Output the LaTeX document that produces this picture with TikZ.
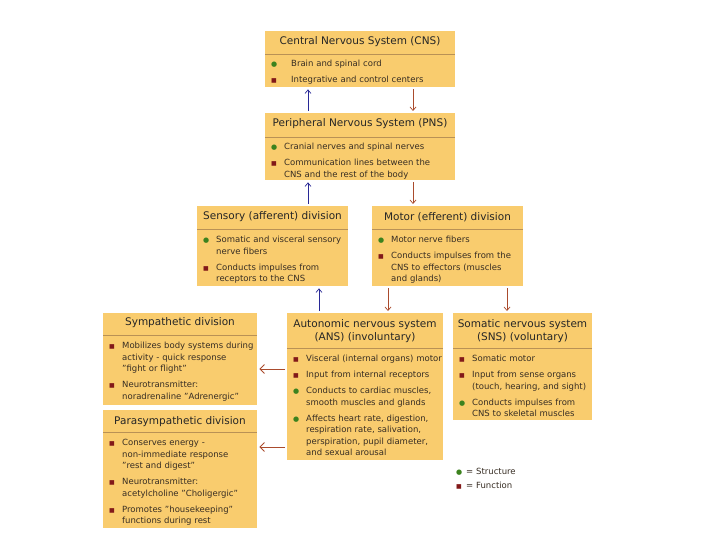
\documentclass[tikz,border=0pt]{standalone}
\usepackage{fontspec}
\setmainfont{DejaVu Sans}
\usetikzlibrary{arrows.meta}
\definecolor{boxfill}{RGB}{249,204,110}
\definecolor{sepline}{RGB}{185,145,85}
\definecolor{bgreen}{RGB}{60,130,30}
\definecolor{bred}{RGB}{130,25,25}
\definecolor{arblue}{RGB}{40,40,150}
\definecolor{arbrown}{RGB}{170,75,45}
\definecolor{txt}{RGB}{55,45,35}
\newlength\bind
\setlength\bind{13pt}
\newcommand\gbul{\textcolor{bgreen}{\fontsize{7}{7}\selectfont ●}}
\newcommand\rbul{\textcolor{bred}{\fontsize{6}{6}\selectfont ■}}
\newcommand\bitem[2]{\par\hangindent=\bind\hangafter=1\noindent\makebox[\bind][l]{#1}#2\par}
\newcommand\igap{\vspace{4.5pt}}
\tikzset{
  box/.style={fill=boxfill, draw=none, rectangle, inner sep=0pt, anchor=north west},
  ttl/.style={font=\fontsize{10.5}{13}\selectfont, text=black!85, align=center, inner sep=0pt},
  bdy/.style={font=\fontsize{8.5}{11.5}\selectfont, text=txt, inner sep=0pt, anchor=north west},
  sepl/.style={draw=sepline, line width=0.6pt},
  upar/.style={draw=arblue, line width=0.7pt, -{Straight Barb[length=3.5pt,width=6pt]}, shorten <=2pt, shorten >=2pt},
  dnar/.style={draw=arbrown, line width=0.7pt, -{Straight Barb[length=3.5pt,width=6pt]}, shorten <=2pt, shorten >=2pt},
  lfar/.style={draw=arbrown, line width=0.8pt, -{Straight Barb[length=4.5pt,width=9pt]}, shorten <=2pt, shorten >=2pt},
}
\begin{document}
\begin{tikzpicture}[x=1pt, y=-1pt]
\fill[white] (0,0) rectangle (720,540);
\useasboundingbox (0,0) rectangle (720,540);

% ---- boxes ----
\node[box, minimum width=190pt, minimum height=56pt] (cns) at (265,31) {};
\node[box, minimum width=190pt, minimum height=67pt] (pns) at (265,113) {};
\node[box, minimum width=151pt, minimum height=80pt] (sen) at (197,206) {};
\node[box, minimum width=151pt, minimum height=80pt] (mot) at (372,206) {};
\node[box, minimum width=154pt, minimum height=92pt] (sym) at (103,313) {};
\node[box, minimum width=156pt, minimum height=147pt] (ans) at (287,313) {};
\node[box, minimum width=139pt, minimum height=107pt] (sns) at (453,313) {};
\node[box, minimum width=154pt, minimum height=118pt] (par) at (103,410) {};

% ---- separators ----
\draw[sepl] ([yshift=-23pt]cns.north west) -- ([yshift=-23pt]cns.north east);
\draw[sepl] ([yshift=-24pt]pns.north west) -- ([yshift=-24pt]pns.north east);
\draw[sepl] ([yshift=-23pt]sen.north west) -- ([yshift=-23pt]sen.north east);
\draw[sepl] ([yshift=-23pt]mot.north west) -- ([yshift=-23pt]mot.north east);
\draw[sepl] ([yshift=-22pt]sym.north west) -- ([yshift=-22pt]sym.north east);
\draw[sepl] ([yshift=-35pt]ans.north west) -- ([yshift=-35pt]ans.north east);
\draw[sepl] ([yshift=-35pt]sns.north west) -- ([yshift=-35pt]sns.north east);
\draw[sepl] ([yshift=-22pt]par.north west) -- ([yshift=-22pt]par.north east);

% ---- titles ----
\node[ttl] (cnsT) at (360,42) {Central Nervous System (CNS)};
\node[ttl] (pnsT) at (360,124) {Peripheral Nervous System (PNS)};
\node[ttl] (senT) at (272.5,217) {Sensory (afferent) division};
\node[ttl] (motT) at (447.5,217) {Motor (efferent) division};
\node[ttl] (symT) at (180,323) {Sympathetic division};
\node[ttl] (ansT) at (365,331.5) {Autonomic nervous system\\(ANS) (involuntary)};
\node[ttl] (snsT) at (522.5,331.5) {Somatic nervous system\\(SNS) (voluntary)};
\node[ttl] (parT) at (180,422) {Parasympathetic division};

% ---- bodies ----
\node[bdy, text width=185pt] (cnsB) at (271,55) {\raggedright\setlength\bind{20pt}%
\bitem{\gbul}{Brain and spinal cord}\igap
\bitem{\rbul}{Integrative and control centers}};
\node[bdy, text width=185pt] (pnsB) at (271,138) {\raggedright
\bitem{\gbul}{Cranial nerves and spinal nerves}\igap
\bitem{\rbul}{Communication lines between the\newline CNS and the rest of the body}};
\node[bdy, text width=150pt] (senB) at (203,231) {\raggedright
\bitem{\gbul}{Somatic and visceral sensory\newline nerve fibers}\igap
\bitem{\rbul}{Conducts impulses from\newline receptors to the CNS}};
\node[bdy, text width=150pt] (motB) at (378,231) {\raggedright
\bitem{\gbul}{Motor nerve fibers}\igap
\bitem{\rbul}{Conducts impulses from the\newline CNS to effectors (muscles\newline and glands)}};
\node[bdy, text width=155pt] (symB) at (109,337) {\raggedright
\bitem{\rbul}{Mobilizes body systems during\newline activity - quick response\newline "fight or flight"}\igap
\bitem{\rbul}{Neurotransmitter:\newline noradrenaline "Adrenergic"}};
\node[bdy, text width=160pt] (ansB) at (293,350) {\raggedright
\bitem{\rbul}{Visceral (internal organs) motor}\igap
\bitem{\rbul}{Input from internal receptors}\igap
\bitem{\gbul}{Conducts to cardiac muscles,\newline smooth muscles and glands}\igap
\bitem{\gbul}{Affects heart rate, digestion,\newline respiration rate, salivation,\newline perspiration, pupil diameter,\newline and sexual arousal}};
\node[bdy, text width=140pt] (snsB) at (459,350) {\raggedright
\bitem{\rbul}{Somatic motor}\igap
\bitem{\rbul}{Input from sense organs\newline (touch, hearing, and sight)}\igap
\bitem{\gbul}{Conducts impulses from\newline CNS to skeletal muscles}};
\node[bdy, text width=155pt] (parB) at (109,434) {\raggedright
\bitem{\rbul}{Conserves energy -\newline non-immediate response\newline "rest and digest"}\igap
\bitem{\rbul}{Neurotransmitter:\newline acetylcholine "Choligergic"}\igap
\bitem{\rbul}{Promotes "housekeeping"\newline functions during rest}};

% ---- legend ----
\node[bdy, text width=80pt] (leg) at (456,463) {\raggedright\setlength\bind{10pt}%
\bitem{\gbul}{= Structure}\vspace{2pt}
\bitem{\rbul}{= Function}};

% ---- connectors ----
\draw[upar] ([xshift=43pt]pns.north west) -- ([xshift=43pt]cns.south west);
\draw[dnar] ([xshift=148pt]cns.south west) -- ([xshift=148pt]pns.north west);
\draw[upar] ([xshift=111pt]sen.north west) -- ([xshift=43pt]pns.south west);
\draw[dnar] ([xshift=148pt]pns.south west) -- ([xshift=41pt]mot.north west);
\draw[upar] ([xshift=32pt]ans.north west) -- ([xshift=122pt]sen.south west);
\draw[dnar] ([xshift=16pt]mot.south west) -- ([xshift=101pt]ans.north west);
\draw[dnar] ([xshift=135pt]mot.south west) -- ([xshift=54pt]sns.north west);
\draw[lfar] ([yshift=-56pt]ans.north west) -- ([yshift=-56pt]sym.north east);
\draw[lfar] ([yshift=-134pt]ans.north west) -- ([yshift=-37pt]par.north east);
\end{tikzpicture}
\end{document}
